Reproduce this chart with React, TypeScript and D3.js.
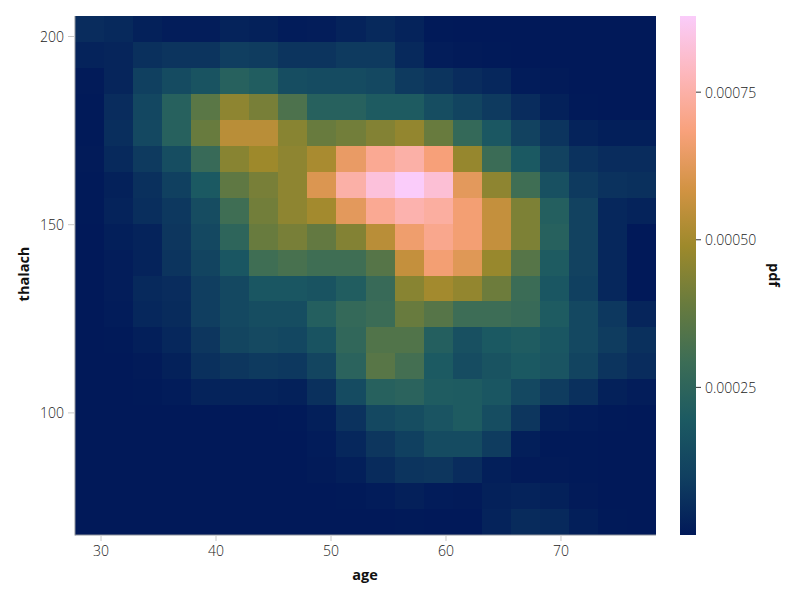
import * as d3 from 'd3';

// bin centres of the density grid
const ageBins = [29, 31.53, 34.05, 36.58, 39.11, 41.63, 44.16, 46.68, 49.21, 51.74, 54.26, 56.79, 59.32, 61.84, 64.37, 66.89, 69.42, 71.95, 74.47, 77];
// top row first
const thalachBins = [202, 195.11, 188.21, 181.32, 174.42, 167.53, 160.63, 153.74, 146.84, 139.95, 133.05, 126.16, 119.26, 112.37, 105.47, 98.58, 91.68, 84.79, 77.89, 71];

// pdf x 1e5, one line per thalach bin
const pdfRows = [
  [5, 4, 2, 1, 1, 2.5, 2, 0.7, 1, 2.5, 4, 2.5, 0.3, 0.1, 0.1, 0.1, 0, 0, 0, 0],
  [2.5, 3, 6, 7, 7, 9.5, 9, 7, 7, 8.5, 8.5, 4, 1, 0.5, 0.3, 0.1, 0.1, 0, 0, 0],
  [0.5, 3, 10, 14, 17, 23, 21, 15, 14, 14, 13, 8.5, 7, 5, 3.5, 0.8, 0.4, 0.1, 0, 0],
  [0.2, 5, 12.5, 23, 36, 46, 42, 33, 23, 23, 20, 20, 15, 11.5, 8.5, 5, 2, 0.3, 0.1, 0],
  [0.3, 5.5, 13, 23, 39, 54, 54, 45, 39, 41, 44, 47, 39, 27, 18.5, 11, 7, 2.5, 1.5, 1.5],
  [0.5, 4, 8.5, 15, 28, 45, 49, 46, 51, 64.5, 72, 75, 68, 47.5, 29, 19, 11, 6.5, 5, 5],
  [0.3, 2, 6, 10, 19, 37, 42, 46, 61, 75, 83, 87.9, 82, 63, 46, 30, 16, 8.5, 6.5, 6],
  [0.3, 2.5, 5.5, 8, 14.5, 30, 41, 46, 50, 63, 72, 76, 74, 67, 56, 43, 22, 11, 3.5, 2.5],
  [0.1, 1.5, 2.5, 7.5, 13, 25, 39, 42, 38, 44, 54, 66, 71, 67, 56, 43, 23, 11, 3.5, 0],
  [0.1, 1, 2.5, 7, 11.5, 18, 30, 32, 30, 30, 35, 56, 67, 62, 48, 35, 20, 11, 3.5, 0],
  [0, 1, 4, 5, 9.5, 13, 18, 18, 17, 21, 28, 45, 50, 47, 40, 29, 18, 10, 3.5, 0],
  [0, 0.7, 3.5, 4.5, 9.5, 13, 15, 15, 22, 27, 29, 39, 35, 29.5, 29.5, 28, 20, 13, 8, 3],
  [0, 0.3, 1.5, 3.5, 7.5, 12, 13.5, 12.5, 17, 26, 34, 34, 22, 16, 19, 20.5, 18, 13, 9, 6],
  [0, 0, 0.5, 2, 6, 7.5, 8.5, 8, 12, 24, 35.5, 31, 19.5, 14.5, 17, 19, 17.5, 11.5, 7, 5],
  [0, 0, 0.3, 0.8, 2.5, 2.5, 2.5, 2, 6, 14, 23, 24, 20.5, 20, 18, 13, 9, 6, 2, 1],
  [0, 0, 0, 0, 0, 0, 0, 0.2, 1.5, 6.5, 13, 15, 17.5, 20, 15, 7.5, 1.5, 0.8, 0.3, 0],
  [0, 0, 0, 0, 0, 0, 0, 0, 0.8, 3.5, 7.5, 10, 14, 14, 9, 1.5, 0.3, 0.2, 0, 0],
  [0, 0, 0, 0, 0, 0, 0, 0, 0.5, 1.5, 4.5, 7, 7.5, 5, 1.5, 0.4, 0.5, 0.2, 0, 0],
  [0, 0, 0, 0, 0, 0, 0, 0, 0.1, 0.3, 0.8, 1.8, 0.8, 0.6, 2, 2.5, 2, 0.5, 0.1, 0],
  [0, 0, 0, 0, 0, 0, 0, 0, 0, 0, 0.1, 0.2, 0.1, 0.1, 2.5, 4.5, 4, 1.5, 0.3, 0.1],
];

const ageTicks = [30, 40, 50, 60, 70];
const thalachTicks = [100, 150, 200];
const pdfTicks = [0.00025, 0.0005, 0.00075];

// batlow
const batlow = ['#011959', '#103F60', '#1C5A62', '#3C6D56', '#687B3E', '#9D892B', '#D29343', '#F8A17B', '#FDB7BC', '#FACCFA'];

const pdfMax = 0.000879;
const tickFont = { fontFamily: '"Open Sans", sans-serif', fontWeight: 300, fontSize: 14, fill: '#1a1a1a' };
const titleFont = { fontFamily: '"Open Sans", sans-serif', fontWeight: 700, fontSize: 14.5, fill: '#111' };

const plot = { left: 75, right: 656, top: 16, bottom: 535 };
const bar = { left: 680, right: 696 };

export default function App() {
  const ageStep = (ageBins[19] - ageBins[0]) / 19;
  const thalachStep = (thalachBins[0] - thalachBins[19]) / 19;

  const x = d3.scaleLinear()
    .domain([ageBins[0] - ageStep / 2, ageBins[19] + ageStep / 2])
    .range([plot.left, plot.right]);
  const y = d3.scaleLinear()
    .domain([thalachBins[19] - thalachStep / 2, thalachBins[0] + thalachStep / 2])
    .range([plot.bottom, plot.top]);

  // cells sit on bands so neighbours share their edges
  const xBand = d3.scaleBand<number>().domain(ageBins).range([plot.left, plot.right]);
  const yBand = d3.scaleBand<number>().domain(thalachBins).range([plot.top, plot.bottom]);

  const pdfToT = d3.scaleLinear().domain([0, pdfMax]).range([0, 1]);
  const ramp = d3.piecewise(d3.interpolateRgb, batlow);
  const color = (v: number) => ramp(pdfToT(v));
  const barY = d3.scaleLinear().domain([0, pdfMax]).range([plot.bottom, plot.top]);

  return (
    <svg width={800} height={600} style={{ position: 'absolute', left: 0, top: 0 }}>
      <defs>
        <linearGradient id="batlow" x1="0" y1="1" x2="0" y2="0">
          {batlow.map((c, i) => (
            <stop key={c} offset={i / (batlow.length - 1)} stopColor={c} />
          ))}
        </linearGradient>
      </defs>

      <g shapeRendering="crispEdges">
        {pdfRows.map((row, r) =>
          row.map((v, c) => {
            const x0 = Math.round(xBand(ageBins[c])!);
            const x1 = Math.round(xBand(ageBins[c])! + xBand.bandwidth());
            const y0 = Math.round(yBand(thalachBins[r])!);
            const y1 = Math.round(yBand(thalachBins[r])! + yBand.bandwidth());
            return <rect key={`${r}-${c}`} x={x0} y={y0} width={x1 - x0} height={y1 - y0} fill={color(v * 1e-5)} />;
          })
        )}
      </g>

      {/* spines */}
      <line x1={plot.left} x2={plot.left} y1={plot.top} y2={plot.bottom + 0.5} stroke="#8f939b" strokeWidth={1} />
      <line x1={plot.left} x2={plot.right} y1={plot.bottom} y2={plot.bottom} stroke="#8f939b" strokeWidth={1} />

      {ageTicks.map(t => (
        <g key={t}>
          <line x1={x(t)} x2={x(t)} y1={plot.bottom} y2={plot.bottom + 6} stroke="#c8c8c8" />
          <text x={x(t)} y={plot.bottom + 21} textAnchor="middle" {...tickFont}>{t}</text>
        </g>
      ))}
      {thalachTicks.map(t => (
        <g key={t}>
          <line x1={plot.left - 7} x2={plot.left} y1={y(t)} y2={y(t)} stroke="#c8c8c8" />
          <text x={plot.left - 11} y={y(t) + 5} textAnchor="end" {...tickFont}>{t}</text>
        </g>
      ))}

      <text x={365} y={580} textAnchor="middle" {...titleFont}>age</text>
      <text transform={`translate(29,274) rotate(-90)`} textAnchor="middle" {...titleFont}>thalach</text>

      {/* colorbar */}
      <rect x={bar.left} y={plot.top} width={bar.right - bar.left} height={plot.bottom - plot.top} fill="url(#batlow)" />
      {pdfTicks.map(t => (
        <g key={t}>
          <line x1={bar.right} x2={bar.right + 5} y1={barY(t)} y2={barY(t)} stroke="#333" />
          <text x={bar.right + 9} y={barY(t) + 5.5} {...tickFont}>{t.toFixed(5)}</text>
        </g>
      ))}
      <text transform={`translate(769,275) rotate(90)`} textAnchor="middle" {...titleFont}>pdf</text>
    </svg>
  );
}
